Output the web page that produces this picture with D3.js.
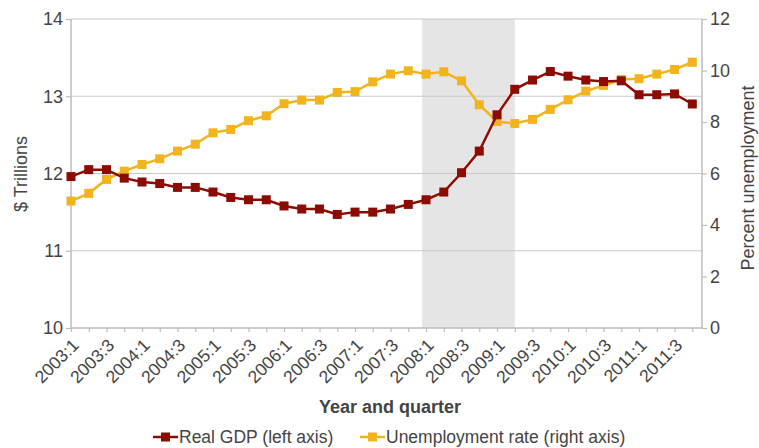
<!DOCTYPE html>
<meta charset="utf-8">
<style>
  body { margin: 0; background: #fff; }
  text { font-family: "Liberation Sans", Arial, sans-serif; fill: #444; }
</style>
<div id="chart"></div>
<script src="https://cdn.jsdelivr.net/npm/d3@7"></script>
<script>

// quarters 2003:1 .. 2011:4
var quarters = ["2003:1","2003:2","2003:3","2003:4","2004:1","2004:2","2004:3","2004:4",
  "2005:1","2005:2","2005:3","2005:4","2006:1","2006:2","2006:3","2006:4",
  "2007:1","2007:2","2007:3","2007:4","2008:1","2008:2","2008:3","2008:4",
  "2009:1","2009:2","2009:3","2009:4","2010:1","2010:2","2010:3","2010:4",
  "2011:1","2011:2","2011:3","2011:4"];

// Real GDP, $ trillions (left axis)
var gdp = [11.96,12.05,12.05,11.94,11.89,11.87,11.82,11.82,11.76,11.69,11.66,11.66,
  11.58,11.54,11.54,11.47,11.50,11.50,11.54,11.60,11.66,11.76,12.01,12.29,
  12.76,13.09,13.21,13.32,13.26,13.21,13.19,13.20,13.02,13.02,13.03,12.90];

// Unemployment rate, percent (right axis)
var unemp = [4.93,5.23,5.77,6.09,6.35,6.57,6.87,7.14,7.58,7.71,8.05,8.24,
  8.71,8.85,8.85,9.15,9.18,9.56,9.86,9.99,9.86,9.95,9.60,8.67,
  8.02,7.94,8.10,8.49,8.86,9.20,9.42,9.65,9.68,9.86,10.04,10.32];

var leftTicks = [10, 11, 12, 13, 14];
var rightTicks = [0, 2, 4, 6, 8, 10, 12];

// recession band, in quarter index units
var recession = [19.78, 25];

var W = 759, H = 448;
var pLeft = 71, pRight = 702, pTop = 19, pBottom = 328;

var svg = d3.select("#chart").append("svg")
  .attr("width", W).attr("height", H);

var x = d3.scalePoint().domain(quarters).range([pLeft, 692.3]);
var step = x.step();
var xi = function(i) { return pLeft + i * step; };

var yL = d3.scaleLinear().domain([10, 14]).range([pBottom, pTop]);
var yR = d3.scaleLinear().domain([0, 12]).range([pBottom, pTop]);

// recession shading
svg.append("rect")
  .attr("x", xi(recession[0]))
  .attr("y", pTop)
  .attr("width", xi(recession[1]) - xi(recession[0]))
  .attr("height", pBottom - pTop)
  .attr("fill", "#e5e5e5");

// gridlines
svg.append("g").selectAll("line")
  .data(leftTicks.slice(1))
  .enter().append("line")
    .attr("x1", pLeft).attr("x2", pRight)
    .attr("y1", function(d) { return yL(d); })
    .attr("y2", function(d) { return yL(d); })
    .attr("stroke", "#c8c8c8").attr("stroke-width", 1.2);

// left axis
var gl = svg.append("g").attr("transform", "translate(" + pLeft + ",0)")
  .call(d3.axisLeft(yL).tickValues(leftTicks).tickSize(5).tickPadding(3).tickFormat(d3.format("d")));
// right axis
var gr = svg.append("g").attr("transform", "translate(" + pRight + ",0)")
  .call(d3.axisRight(yR).tickValues(rightTicks).tickSize(5).tickPadding(3).tickFormat(d3.format("d")));
// bottom axis
var gb = svg.append("g").attr("transform", "translate(0," + pBottom + ")")
  .call(d3.axisBottom(x).tickSize(4).tickFormat(function(d, i) { return i % 2 === 0 ? d : ""; }));

[gl, gr, gb].forEach(function(g) {
  g.select(".domain").attr("stroke", "#bdbdbd").attr("stroke-width", 1.5);
  g.selectAll(".tick line").attr("stroke", "#bdbdbd").attr("stroke-width", 1.2);
});
gb.select(".domain").attr("d", "M" + pLeft + ",0H" + pRight);
gl.select(".domain").attr("d", "M0," + pTop + "V" + pBottom);
gr.select(".domain").attr("d", "M0," + pTop + "V" + pBottom);

gl.selectAll(".tick text").style("font-size", "18px").attr("fill", "#444");
gr.selectAll(".tick text").style("font-size", "18px").attr("fill", "#444");
gb.selectAll(".tick text")
  .style("font-size", "17.5px").attr("fill", "#444")
  .attr("text-anchor", "end")
  .attr("dy", "0.35em")
  .attr("transform", "translate(4,14) rotate(-45)")
  .attr("x", 0).attr("y", 0);

// series
function drawSeries(vals, yScale, color) {
  var line = d3.line()
    .x(function(d, i) { return xi(i); })
    .y(function(d) { return yScale(d); });
  svg.append("path")
    .datum(vals)
    .attr("d", line)
    .attr("fill", "none")
    .attr("stroke", color)
    .attr("stroke-width", 2.5);
  svg.append("g").selectAll("rect")
    .data(vals)
    .enter().append("rect")
      .attr("x", function(d, i) { return xi(i) - 4.5; })
      .attr("y", function(d) { return yScale(d) - 4.5; })
      .attr("width", 9).attr("height", 9)
      .attr("fill", color);
}
var red = "#8c0c03", yellow = "#f1b41d";
drawSeries(unemp, yR, yellow);
drawSeries(gdp, yL, red);

// axis titles
svg.append("text")
  .attr("transform", "translate(27,174) rotate(-90)")
  .attr("text-anchor", "middle")
  .style("font-size", "18px")
  .text("$ Trillions");
svg.append("text")
  .attr("transform", "translate(754,178) rotate(-90)")
  .attr("text-anchor", "middle")
  .style("font-size", "18px")
  .text("Percent unemployment");
svg.append("text")
  .attr("x", 390).attr("y", 413)
  .attr("text-anchor", "middle")
  .style("font-size", "18px").style("font-weight", "bold")
  .attr("fill", "#222")
  .text("Year and quarter");

// legend
var legend = [
  {label: "Real GDP (left axis)", color: red, x: 153},
  {label: "Unemployment rate (right axis)", color: yellow, x: 360}
];
var lg = svg.append("g").selectAll("g").data(legend).enter().append("g")
  .attr("transform", function(d) { return "translate(" + d.x + ",437)"; });
lg.append("line").attr("x1", 0).attr("x2", 25)
  .attr("stroke", function(d) { return d.color; }).attr("stroke-width", 2.5);
lg.append("rect").attr("x", 8).attr("y", -4.5).attr("width", 9).attr("height", 9)
  .attr("fill", function(d) { return d.color; });
lg.append("text").attr("x", 26).attr("y", 0).attr("dy", "0.35em")
  .style("font-size", "17.5px")
  .text(function(d) { return d.label; });
</script>
